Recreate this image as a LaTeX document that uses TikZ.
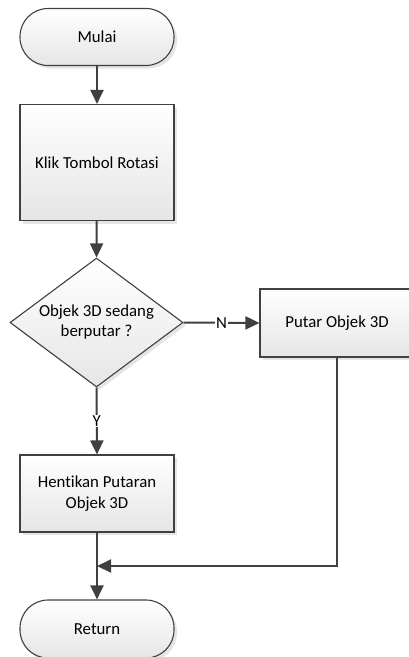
\documentclass[tikz,border=0pt]{standalone}
\usepackage{fontspec}
\setmainfont{Carlito}[Ligatures=NoCommon]
\usetikzlibrary{shapes.geometric,arrows.meta,shadows}
\definecolor{lineg}{HTML}{404040}
\newcommand{\fsz}{\fontsize{16.8}{20.5}\selectfont}
\tikzset{
  base/.style={draw=lineg, line width=1.1pt, top color=white, bottom color=black!10,
    drop shadow={shadow xshift=3pt, shadow yshift=-3pt, opacity=0.25, fill=black!40},
    inner sep=0pt, align=center, font=\fsz},
  term/.style={base, rectangle, rounded corners=28pt, minimum width=154pt, minimum height=57pt},
  proc/.style={base, rectangle, minimum width=154pt},
  dec/.style={base, diamond, minimum width=173pt, minimum height=129pt},
  conn/.style={draw=lineg, line width=2pt, -{Triangle[width=13pt,length=14pt]}},
  lab/.style={fill=white, inner sep=1pt, font=\fsz}
}
\begin{document}
\begin{tikzpicture}[x=1pt,y=-1pt]
\useasboundingbox (0,0) rectangle (409,657);
\node[term] (mulai) at (97,37) {Mulai};
\node[proc, minimum height=116pt] (klik) at (97,162.5) {Klik Tombol Rotasi};
\node[dec] (dec) at (96.5,322.5) {};
\node[font=\fsz, align=center] (dectxt) at (96.5,322) {Objek 3D sedang\\berputar ?};
\node[proc, minimum height=68pt] (putar) at (337,323) {Putar Objek 3D};
\node[proc, minimum height=77pt] (henti) at (97,493.5) {Hentikan Putaran\\Objek 3D};
\node[term, minimum height=58pt] (ret) at (97,629) {Return};
\coordinate (j) at (97,566);
\draw[conn] (mulai) -- (klik);
\draw[conn] (klik) -- (dec.north);
\draw[conn] (dec.east) -- node[lab] {N} (putar.west);
\draw[conn] (dec.south) -- node[lab] {Y} (henti.north);
\draw[conn] (henti) -- (ret);
\draw[conn] (putar.south) |- (j);
\end{tikzpicture}
\end{document}
